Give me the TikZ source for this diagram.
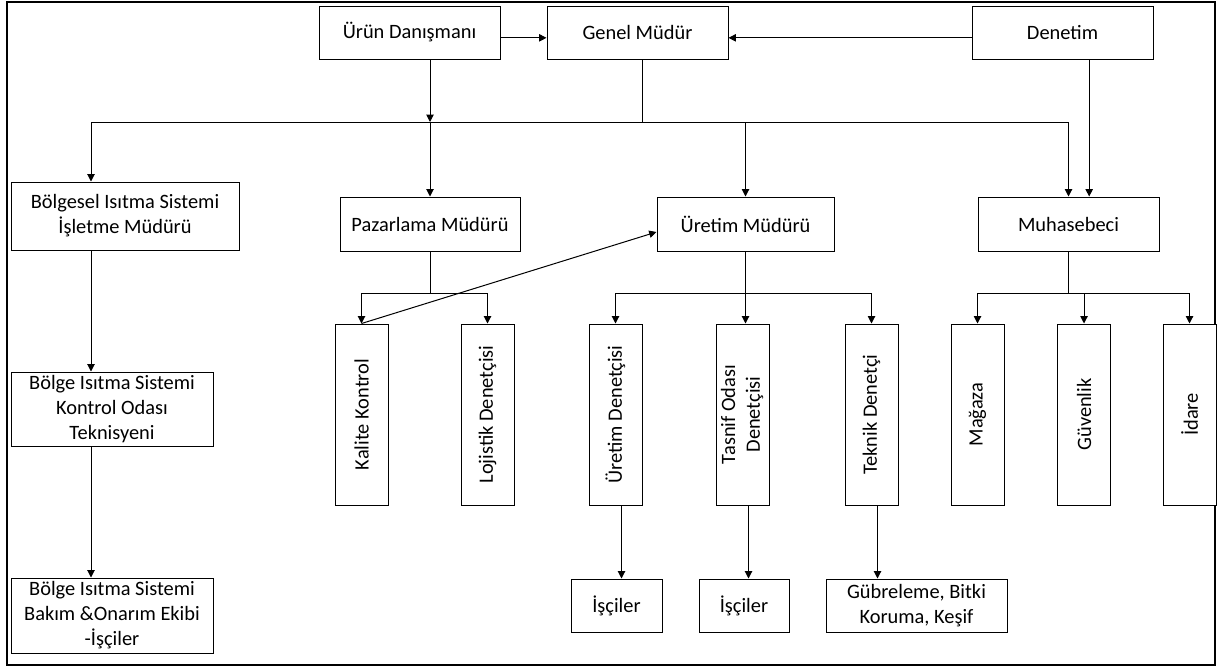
\documentclass[tikz,border=0pt]{standalone}
\usepackage{fontspec}
\setmainfont{Carlito}
\usetikzlibrary{arrows.meta}
\tikzset{
  box/.style={draw, line width=0.75pt, inner sep=0pt, align=center, fill=white,
    font=\fontsize{15.3}{18.7}\selectfont},
  sz/.style 2 args={minimum width=#1*0.75pt, minimum height=#2*0.75pt},
  vbox/.style={box, minimum width=53*0.75pt, minimum height=181*0.75pt},
  arr/.style={line width=0.75pt, -{Triangle[length=5.5pt,width=5.5pt]}},
  ln/.style={line width=0.75pt}
}
\begin{document}
\begin{tikzpicture}[x=0.75pt,y=-0.75pt]
\useasboundingbox (0,0) rectangle (1219,668);
\fill[white] (0,0) rectangle (1219,668);
\draw[line width=1.6pt] (7,2) rectangle (1215,665);

% top row
\node[box, sz={181}{53}] (uron) at (409.5,32.5) {Ürün Danışmanı};
\node[box, sz={181}{53}] (genel) at (637.5,32.5) {Genel Müdür};
\node[box, sz={181}{53}] (denetim) at (1062.5,32.5) {Denetim};

% second row
\node[box, sz={228}{68}] (bolgesel) at (125,216) {Bölgesel Isıtma Sistemi\\İşletme Müdürü};
\node[box, sz={180}{54}] (pazarlama) at (430,224) {Pazarlama Müdürü};
\node[box, sz={177}{54}] (uretimm) at (745.5,224) {Üretim Müdürü};
\node[box, sz={181}{54}] (muhasebeci) at (1068.5,224) {Muhasebeci};

% left column
\node[box, sz={202}{74}] (kontrol) at (112,409) {Bölge Isıtma Sistemi\\Kontrol Odası\\Teknisyeni};
\node[box, sz={202}{75}] (bakim) at (112,615.5) {Bölge Isıtma Sistemi\\Bakım \&Onarım Ekibi\\-İşçiler};

% vertical boxes
\node[vbox] (kalite) at (361.5,414.5) {\rotatebox{90}{Kalite Kontrol}};
\node[vbox] (lojistik) at (487.5,414.5) {\rotatebox{90}{Lojistik Denetçisi}};
\node[vbox] (uretd) at (615.5,414.5) {\rotatebox{90}{Üretim Denetçisi}};
\node[vbox] (tasnif) at (742.5,414.5) {\rotatebox{90}{\begin{tabular}{@{}c@{}}Tasnif Odası\\Denetçisi\end{tabular}}};
\node[vbox] (teknik) at (871.5,414.5) {\rotatebox{90}{Teknik Denetçi}};
\node[vbox] (magaza) at (977.5,414.5) {\rotatebox{90}{Mağaza}};
\node[vbox] (guvenlik) at (1084,414.5) {\rotatebox{90}{Güvenlik}};
\node[vbox] (idare) at (1189.5,414.5) {\rotatebox{90}{İdare}};

% bottom row
\node[box, sz={91}{53}] (isciler1) at (616.5,605.5) {İşçiler};
\node[box, sz={90}{53}] (isciler2) at (744,605.5) {İşçiler};
\node[box, sz={181}{53}] (gubre) at (916.5,605.5) {Gübreleme, Bitki\\Koruma, Keşif};

% bus coordinates
\coordinate (busL) at (91,122);
\coordinate (pbus) at (430,293);
\coordinate (ubus) at (745.5,293);
\coordinate (mbus) at (1068.5,293);

% top connectors
\draw[arr] ([yshift=-4pt]uron.east) -- ([yshift=-4pt]genel.west);
\draw[arr] ([yshift=-4pt]denetim.west) -- ([yshift=-4pt]genel.east);
\draw[arr] (uron.south -| pazarlama) -- (busL -| pazarlama);
\draw[ln] ([xshift=4pt]genel.south) -- ([xshift=4pt]genel.south |- busL);
\draw[arr] (busL) -- (busL |- bolgesel.north);
\draw[arr] (busL) -| (muhasebeci.north);
\draw[arr] (busL -| pazarlama) -- (pazarlama.north);
\draw[arr] (busL -| uretimm) -- (uretimm.north);
\draw[arr] ([xshift=20pt]denetim.south) -- ([xshift=20pt]denetim.south |- muhasebeci.north);

% left column
\draw[arr] (bolgesel.south -| busL) -- (kontrol.north -| busL);
\draw[arr] (kontrol.south -| busL) -- (bakim.north -| busL);

% pazarlama
\draw[ln] (pazarlama.south) -- (pbus);
\draw[arr] (pbus) -| (kalite.north);
\draw[arr] (pbus) -| (lojistik.north);

% uretim
\draw[arr] (uretimm.south) -- (uretimm.south |- tasnif.north);
\draw[arr] (ubus) -| (uretd.north);
\draw[arr] (ubus) -| (teknik.north);

% muhasebeci
\draw[ln] (muhasebeci.south) -- (mbus);
\draw[arr] (mbus) -| (magaza.north);
\draw[arr] (mbus) -| (idare.north);
\draw[arr] (mbus -| guvenlik) -- (guvenlik.north);

% diagonal
\draw[arr] (kalite.north) -- ([yshift=-6pt]uretimm.west);

% lower arrows
\draw[arr] ([xshift=4.5pt]uretd.south) -- ([xshift=4.5pt]uretd.south |- isciler1.north);
\draw[arr] ([xshift=4.5pt]tasnif.south) -- ([xshift=4.5pt]tasnif.south |- isciler2.north);
\draw[arr] ([xshift=4.5pt]teknik.south) -- ([xshift=4.5pt]teknik.south |- gubre.north);
\end{tikzpicture}
\end{document}
